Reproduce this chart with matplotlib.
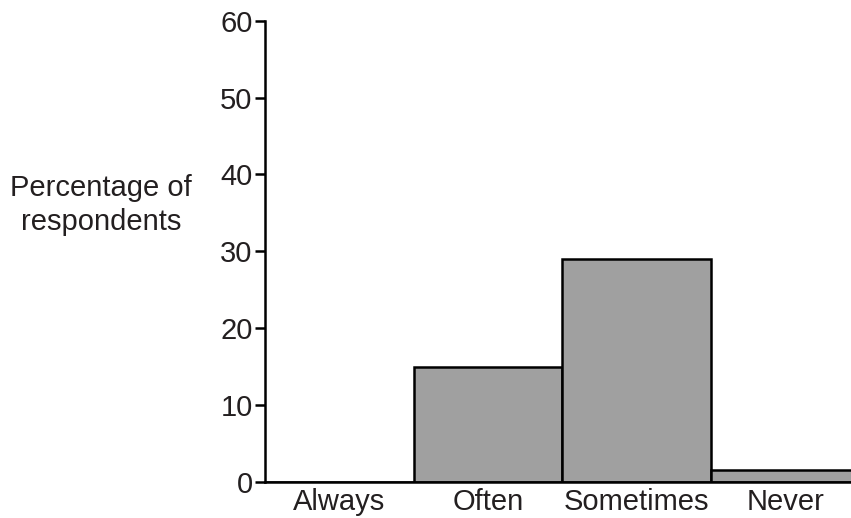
import numpy as np
from matplotlib import pyplot as plt

plt.rcParams['font.family'] = ['Liberation Sans', 'DejaVu Sans']

categories = ['Always', 'Often', 'Sometimes', 'Never']
percentages = [0, 15, 29, 1.6]
y_ticks = [0, 10, 20, 30, 40, 50, 60]

text_color = '#231f20'

fig = plt.figure(figsize=(8.51, 5.18), dpi=100)
ax = fig.add_axes([0.3114, 0.0695, 0.6886, 0.8905])

x = np.arange(len(categories))
ax.bar(x, percentages, width=1.0, color='#a0a0a0', edgecolor='black',
       linewidth=1.8, zorder=2)

ax.set_xlim(-0.5, 3.44)
ax.set_ylim(0, 60)
ax.set_yticks(y_ticks)
ax.set_xticks(x)
ax.set_xticklabels(categories)

for side in ['top', 'right']:
    ax.spines[side].set_visible(False)
ax.spines['left'].set_linewidth(1.8)
ax.spines['bottom'].set_linewidth(1.8)
ax.spines['left'].set_zorder(3)

ax.tick_params(axis='y', length=7, width=1.8, labelsize=21, pad=2,
               labelcolor=text_color)
ax.tick_params(axis='x', length=0, labelsize=21, pad=4, labelcolor=text_color)

# y label sits horizontally to the left of the axis
fig.text(0.119, 0.604, 'Percentage of\nrespondents', ha='center', va='center',
         fontsize=21, linespacing=1.25, color=text_color)

fig.savefig('out.png', dpi=100)
